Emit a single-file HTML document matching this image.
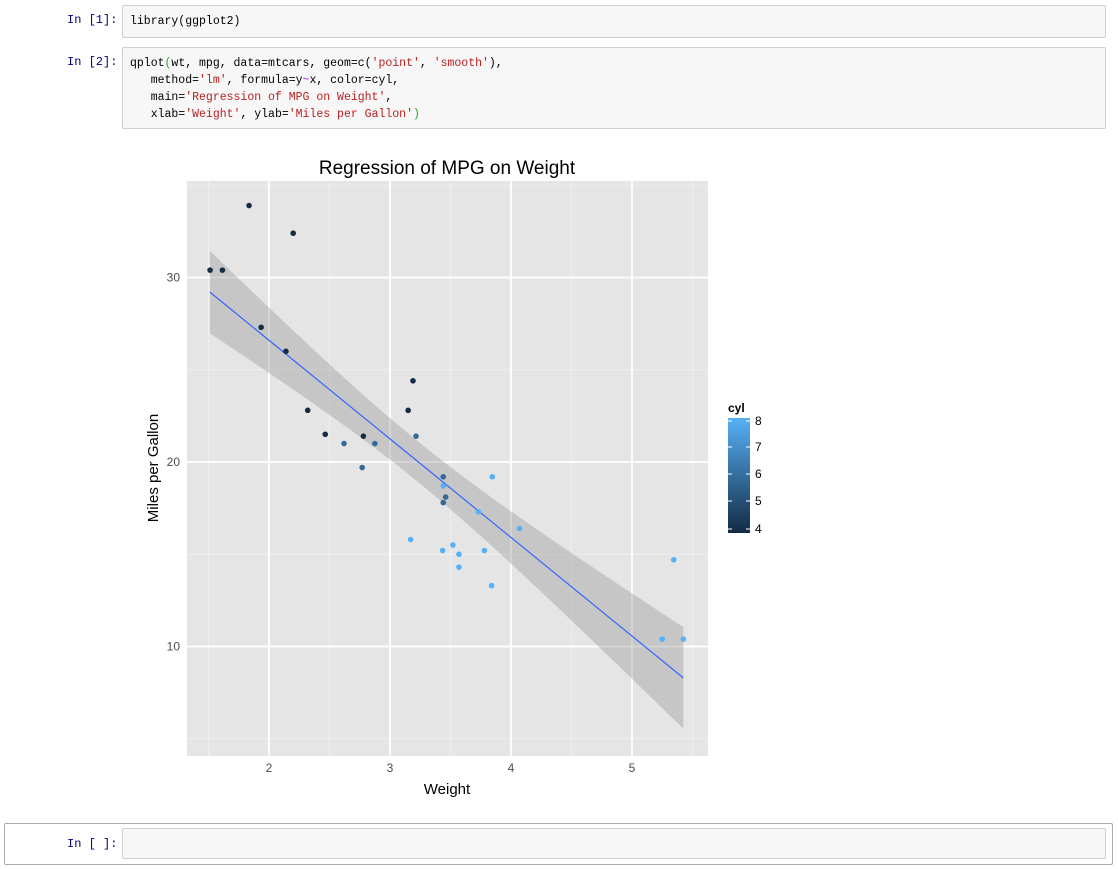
<!DOCTYPE html>
<html><head><meta charset="utf-8"><style>
body{margin:0;width:1118px;height:869px;background:#fff;position:relative;font-family:"Liberation Sans",sans-serif;overflow:hidden}
.lbl{position:absolute;left:67px;font:12px "Liberation Mono",monospace;color:#000080}
.box{position:absolute;left:122px;width:984px;background:#f7f7f7;border:1px solid #cfcfcf;border-radius:2px;font:11.5px "Liberation Mono",monospace;line-height:17px;padding:5px 7px;box-sizing:border-box;white-space:pre;color:#000}
.s{color:#BA2121}.g{color:#22aa22}.p{color:#aa22ff}
</style></head><body>
<div class="lbl" style="top:13px">In [1]:</div>
<div class="box" style="top:5px;height:33px;padding-top:7px">library(ggplot2)</div>
<div class="lbl" style="top:55px">In [2]:</div>
<div class="box" style="top:47px;height:82px;padding-top:7px">qplot<span class="g">(</span>wt, mpg, data=mtcars, geom=c(<span class="s">'point'</span>, <span class="s">'smooth'</span>),
   method=<span class="s">'lm'</span>, formula=y<span class="p">~</span>x, color=cyl,
   main=<span class="s">'Regression of MPG on Weight'</span>,
   xlab=<span class="s">'Weight'</span>, ylab=<span class="s">'Miles per Gallon'</span><span class="g">)</span></div>
<div style="position:absolute;left:4px;top:823px;width:1109px;height:42px;border:1px solid #ababab;border-radius:2px;box-sizing:border-box"></div>
<div class="lbl" style="top:837px">In [ ]:</div>
<div class="box" style="top:828px;height:31px"></div>
<svg id="c" width="1118" height="869" style="position:absolute;left:0;top:0"></svg>
<script>
var s='';
function px(x){return 269+(x-2)*121}function py(y){return 462-(y-20)*18.45}
s+='<rect x="187" y="181" width="521" height="575" fill="#e5e5e5"/>';
[1.5,2.5,3.5,4.5,5.5].forEach(function(v){s+='<line x1="'+px(v)+'" x2="'+px(v)+'" y1="181" y2="756" stroke="#f2f2f2" stroke-width="0.8"/>'});
[5,15,25,35].forEach(function(v){if(py(v)>181)s+='<line y1="'+py(v)+'" y2="'+py(v)+'" x1="187" x2="708" stroke="#f2f2f2" stroke-width="0.8"/>'});
[2,3,4,5].forEach(function(v){s+='<line x1="'+px(v)+'" x2="'+px(v)+'" y1="181" y2="756" stroke="#fff" stroke-width="1.8"/><text x="'+px(v)+'" y="772" font-size="12" fill="#4d4d4d" text-anchor="middle">'+v+'</text>'});
[10,20,30].forEach(function(v){s+='<line y1="'+py(v)+'" y2="'+py(v)+'" x1="187" x2="708" stroke="#fff" stroke-width="1.8"/><text x="180" y="'+(py(v)+4)+'" font-size="12" fill="#4d4d4d" text-anchor="end">'+v+'</text>'});
var up=[],lo=[];for(var i=0;i<=40;i++){var x=1.513+(5.424-1.513)*i/40;var f=37.285-5.344*x;var se=3.046*Math.sqrt(1/32+Math.pow(x-3.217,2)/29.68)*2.042;up.push(px(x)+','+py(f+se));lo.unshift(px(x)+','+py(f-se));}
s+='<polygon points="'+up.concat(lo).join(' ')+'" fill="#999" fill-opacity="0.4"/>';
s+='<line x1="'+px(1.513)+'" y1="'+py(37.285-5.344*1.513)+'" x2="'+px(5.424)+'" y2="'+py(37.285-5.344*5.424)+'" stroke="#3366FF" stroke-width="1.2"/>';
var d=[[2.62,21,6],[2.875,21,6],[2.32,22.8,4],[3.215,21.4,6],[3.44,18.7,8],[3.46,18.1,6],[3.57,14.3,8],[3.19,24.4,4],[3.15,22.8,4],[3.44,19.2,6],[3.44,17.8,6],[4.07,16.4,8],[3.73,17.3,8],[3.78,15.2,8],[5.25,10.4,8],[5.424,10.4,8],[5.345,14.7,8],[2.2,32.4,4],[1.615,30.4,4],[1.835,33.9,4],[2.465,21.5,4],[3.52,15.5,8],[3.435,15.2,8],[3.84,13.3,8],[3.845,19.2,8],[1.935,27.3,4],[2.14,26,4],[1.513,30.4,4],[3.17,15.8,8],[2.77,19.7,6],[3.57,15,8],[2.78,21.4,4]];
var col={4:'#132B43',6:'#336A98',8:'#56B1F7'};
d.forEach(function(p){s+='<circle cx="'+px(p[0])+'" cy="'+py(p[1])+'" r="2.8" fill="'+col[p[2]]+'"/>'});
s+='<text x="447" y="174" font-size="19" text-anchor="middle">Regression of MPG on Weight</text>';
s+='<text x="447" y="794" font-size="15" text-anchor="middle">Weight</text>';
s+='<text transform="translate(158,468) rotate(-90)" font-size="15" text-anchor="middle">Miles per Gallon</text>';
s+='<defs><linearGradient id="lg" x1="0" y1="0" x2="0" y2="1"><stop offset="0" stop-color="#56B1F7"/><stop offset="1" stop-color="#132B43"/></linearGradient></defs>';
s+='<text x="728" y="412" font-size="12" font-weight="bold">cyl</text><rect x="728" y="418" width="22" height="115" fill="url(#lg)"/>';
[[8,421],[7,447],[6,474],[5,501],[4,529]].forEach(function(t){s+='<line x1="728" x2="732" y1="'+t[1]+'" y2="'+t[1]+'" stroke="#fff"/><line x1="746" x2="750" y1="'+t[1]+'" y2="'+t[1]+'" stroke="#fff"/><text x="755" y="'+(t[1]+4)+'" font-size="12">'+t[0]+'</text>'});
document.getElementById('c').innerHTML=s;
</script>
</body></html>
